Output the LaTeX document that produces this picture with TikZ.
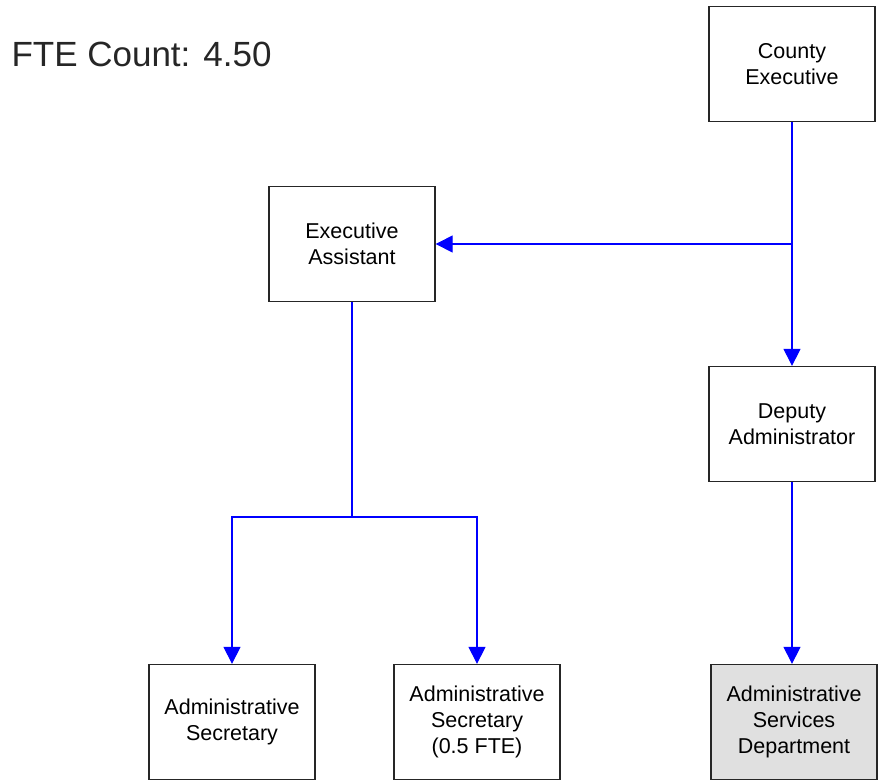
\documentclass[tikz,border=0pt]{standalone}
\usepackage{fontspec}
\setmainfont{Liberation Sans}
\usetikzlibrary{arrows.meta}

\begin{document}
\begin{tikzpicture}[x=1pt,y=-1pt]
			\tikzstyle{es} = [draw=blue, line width=1.1pt, -{Triangle[width=17pt,length=17pt]}]
			\tikzstyle{ln} = [draw=blue, line width=1.1pt]
			\tikzstyle{post} = [draw=black!85, line width=1.3pt, minimum width=166pt, minimum height=115pt, align=center, font=\fontsize{21.5}{26}\selectfont, inner sep=0pt]
			\useasboundingbox (0,0) rectangle (880,782);
			\node[anchor=west, font=\fontsize{35}{40}\selectfont, text=black!85] (fte) at (8,54) {FTE Count: 4.50};
			\node[post] (ce) at (792,64) {County\\Executive};
			\node[post] (ea) at (352,244) {Executive\\Assistant};
			\node[post] (da) at (792,424) {Deputy\\Administrator};
			\node[post] (as1) at (232,722) {Administrative\\Secretary};
			\node[post] (as2) at (477,722) {Administrative\\Secretary\\(0.5 FTE)};
			\node[post, fill=black!12] (asd) at (794,722) {Administrative\\Services\\Department};
			\coordinate (j1) at (ce |- ea);
			\coordinate (j2) at (352,517);
			\draw [ln] (ce) -- (j1);
			\draw [es] (j1) -- (ea);
			\draw [es] (ce) -- (da);
			\draw [ln] (ea) -- (j2);
			\draw [es] (j2) -| (as1);
			\draw [es] (j2) -| (as2);
			\draw [es] (da) -- (da |- asd.north);
		\end{tikzpicture}
\end{document}
